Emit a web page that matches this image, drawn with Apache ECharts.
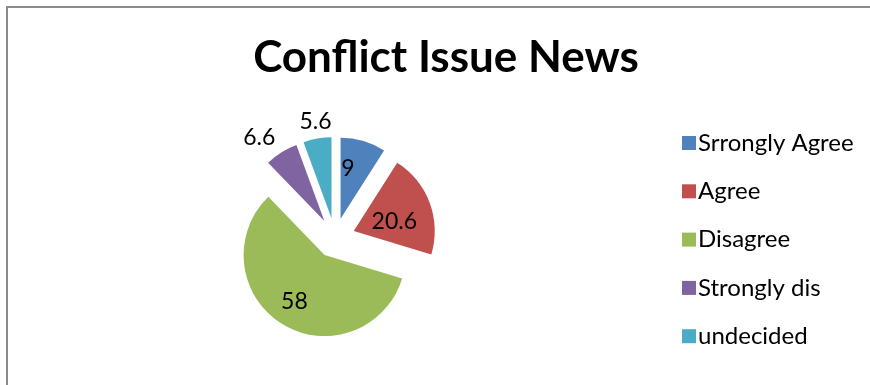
<!DOCTYPE html>
<html>
<head>
<meta charset="utf-8">
<script src="https://cdn.jsdelivr.net/npm/echarts@6/dist/echarts.min.js"></script>
<style>
  html, body { margin: 0; padding: 0; background: #fff; }
  #frame { position: absolute; left: 6px; top: 6px; width: 880px; height: 400px;
           border-left: 2px solid #8c8c8c; border-top: 2px solid #8c8c8c; box-sizing: border-box; }
  #chart { position: absolute; left: 0; top: 0; width: 870px; height: 385px; }
</style>
</head>
<body>
<div id="frame"></div>
<div id="chart"></div>
<script>
// Survey responses on conflict issue news (percent)
const categories = ['Srrongly Agree', 'Agree', 'Disagree', 'Strongly dis', 'undecided'];
const values = [9, 20.6, 58, 6.6, 5.6];
const colors = ['#4f81bd', '#c0504d', '#9bbb59', '#8064a2', '#4bacc6'];

// radial distance of each number from the rim (negative = inside the slice)
// and horizontal gap from that point
const labelRadial = [-29, -55, -26.2, 17.8, 17];
const labelGap = [-14, -6.5, -11.7, -3.5, -17.3];

const chart = echarts.init(document.getElementById('chart'), null, { renderer: 'canvas' });

chart.setOption({
  animation: false,
  color: colors,
  title: {
    text: 'Conflict Issue News',
    left: 441,
    top: 31,
    textAlign: 'center',
    textStyle: { fontFamily: 'Lato', fontWeight: 'bold', fontSize: 44, color: '#000' }
  },
  legend: {
    orient: 'vertical',
    left: 677,
    top: 126,
    itemWidth: 14,
    itemHeight: 14,
    itemGap: 24.3,
    icon: 'rect',
    selectedMode: false,
    textStyle: { fontFamily: 'Lato', fontSize: 24, lineHeight: 24, color: '#000', padding: [0, 0, 0, -3] },
    data: categories
  },
  series: [{
    type: 'pie',
    center: [335, 238],
    radius: 81,
    startAngle: 90,
    clockwise: true,
    selectedMode: 'multiple',
    selectedOffset: 20,
    avoidLabelOverlap: false,
    emphasis: { disabled: true },
    labelLine: { show: false, length2: 0 },
    label: { show: true, position: 'outside', fontFamily: 'Lato', fontSize: 23, color: '#000' },
    data: categories.map((name, i) => ({
      name: name,
      value: values[i],
      selected: true,
      labelLine: { show: false, length: labelRadial[i], length2: 0 },
      label: { formatter: String(values[i]), distanceToLabelLine: labelGap[i] }
    }))
  }]
});
</script>
</body>
</html>
